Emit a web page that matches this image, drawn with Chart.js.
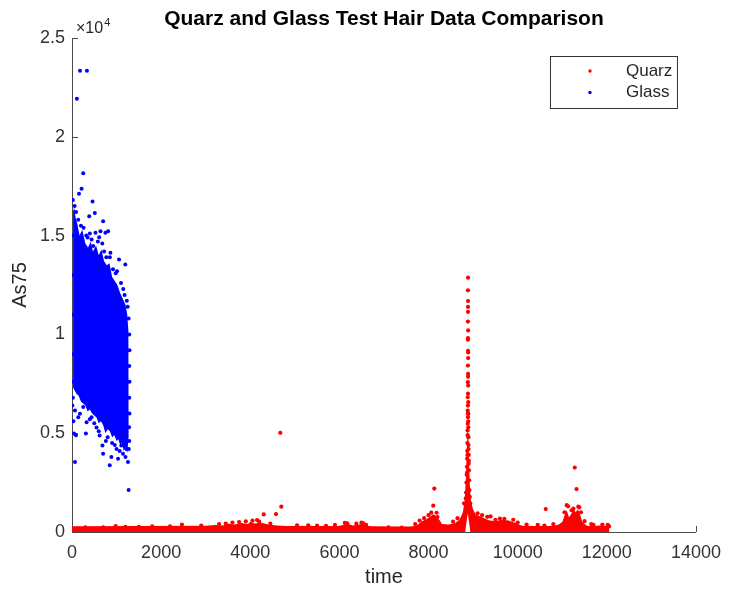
<!DOCTYPE html>
<html><head><meta charset="utf-8">
<script src="https://cdn.jsdelivr.net/npm/chart.js@4/dist/chart.umd.min.js"></script>
<style>html,body{margin:0;padding:0;background:#fff;}canvas{display:block;}</style>
</head><body>
<canvas id="c" width="731" height="594"></canvas>
<script>
// ---------- text ----------
const chartTitle = 'Quarz and Glass Test Hair Data Comparison';
const xLabel = 'time';
const yLabel = 'As75';
const seriesNames = ['Quarz', 'Glass'];
const xTicks = [0, 2000, 4000, 6000, 8000, 10000, 12000, 14000];
const yTicks = [0, 5000, 10000, 15000, 20000, 25000];
const yTickLabels = ['0', '0.5', '1', '1.5', '2', '2.5'];
const yExponent = '4';

// ---------- Quarz (red) ----------
// individual points [time, As75]
const quarzPoints = [
  [8886,12870],[8884,12230],[8887,11690],[8885,11390],[8886,11140],[8884,10650],[8888,10200],[8885,9810],
  [8883,9730],[8886,9170],[8890,9090],[8884,8420],[8887,8000],[8886,7860],[8882,7580],[8889,7410],
  [8885,7000],[8880,6820],[8891,6570],[8884,6400],[8879,6150],[8893,5980],[8885,5810],[8880,5480],
  [8892,5300],[8876,5140],[8894,4800],[8872,4500],[8897,4200],[8868,4100],[8902,3900],[8866,3710],
  [8900,3460],[8860,3300],[8906,3120],[8855,2900],[8912,2620],[8850,2500],[8918,2120],[8842,2000],
  [8925,1780],[8835,1700],[8935,1450],[8825,1400],[8797,1450],
  [8889,8800],[8883,6000],[8890,5600],[8878,4900],[8896,4400],[8874,3900],[8904,3600],[8864,3000],
  [2467,380],[4153,605],[4302,890],[4577,907],[4674,5020],[4696,1280],[6175,440],[6494,470],[6537,440],
  [8106,1330],[8129,2200],[8180,975],[9317,770],[9391,790],[10630,1160],[11100,1360],[11280,3260],
  [11320,2170],[11250,1190],[11360,1280],
  [980,300],[1500,260],[2900,330],[3300,400],[3600,480],[3750,500],[3900,540],[4050,580],[4200,520],
  [4450,430],[5050,340],[5500,320],[5900,360],[6120,460],[6380,420],[6600,360],[7700,400],[7800,580],
  [7900,700],[8000,850],[8060,980],[8200,760],[8550,520],[8650,700],[9100,950],[9200,850],[9600,680],
  [9700,660],[9900,620],[10200,380],[10450,360],[10800,400],[11050,1000],[11130,1300],[11210,1100],
  [11380,1250],[11420,1000],[11500,550],[11650,400],[11900,380],[12020,360],
  [300,240],[700,230],[1200,260],[1800,280],[2200,290],[3450,430],[5300,340],[5700,310],[7100,230],
  [7400,220],[9500,620],[10000,480],[10600,330],[11700,360],[12050,280]
];
// dense band outline (upper edge, then lower edge back)
const quarzBand = [
  [0,0],[0,180],[300,200],[600,170],[900,230],[1000,180],[1300,200],[1700,220],[2000,190],[2300,260],
  [2500,300],[2700,240],[3000,300],[3200,350],[3400,330],[3500,420],[3650,380],[3800,450],[3950,400],
  [4000,520],[4100,430],[4250,470],[4400,380],[4600,330],[4800,300],[5000,280],[5200,310],[5400,260],
  [5600,300],[5800,270],[6000,320],[6200,400],[6300,330],[6450,380],[6550,420],[6650,300],[6800,220],
  [7000,180],[7200,160],[7400,170],[7600,250],[7750,350],[7850,550],[7950,650],[8050,800],[8100,900],
  [8150,850],[8250,600],[8300,400],[8450,380],[8600,450],[8700,650],[8770,1000],[8810,1600],[8840,2800],
  [8860,4200],[8875,5200],[8890,5000],[8905,3800],[8925,2400],[8950,1600],[8990,1200],[9050,900],
  [9150,800],[9250,700],[9350,600],[9500,550],[9650,620],[9800,580],[9950,450],[10100,320],[10300,300],
  [10500,280],[10700,300],[10900,350],[11000,500],[11060,900],[11100,1100],[11150,750],[11200,900],
  [11250,1200],[11300,1000],[11350,1150],[11400,900],[11450,500],[11550,320],[11700,300],[11850,330],
  [12000,300],[12050,250],[12050,0],[8940,0],[8880,950],[8820,0]
];
// dense baseline near zero
const quarzBase = [
  [0,60],[1500,70],[3000,90],[4500,80],[6000,70],[7500,50],[8822,60],[8880,null],[8938,60],[10000,70],[12050,60]
];

// ---------- Glass (blue) ----------
const glassPoints = [
  [110,21930],[180,23340],[335,23340],[252,18160],[215,17370],[157,17120],[461,16730],[512,16140],
  [386,15980],[698,15720],[1055,13790],[1196,13540],[862,14130],[810,15220],[639,15220],[750,15140],
  [610,14920],[527,15140],[475,14480],
  [20,16800],[60,16500],[90,16200],[140,15800],[200,15500],[260,15400],[320,15000],[350,14900],
  [400,15100],[440,14800],[580,14700],[680,14600],[720,14200],[770,13900],[850,13900],[920,13300],
  [980,13100],[1010,13200],[1100,12600],[1150,12300],[1180,12000],[1230,11700],[1250,11400],
  [1270,10800],[1285,10000],[1290,9200],[1285,8400],[1290,7600],[1285,6800],[1290,6000],[1280,5300],
  [1285,4600],[1275,4200],
  [1256,3540],[1144,3960],[1107,4380],[1033,3710],[884,3800],[847,3380],[698,3960],[683,4380],
  [960,4400],[1000,4200],[1070,4100],[1200,3800],[1220,4200],[900,4500],[800,4800],[760,4600],
  [620,4880],[550,5290],[600,5100],[500,5500],[438,5810],[400,5700],[327,5560],[312,4990],[252,6320],
  [178,5980],[141,5810],[89,4890],[67,6150],[45,4990],[67,3540],[30,5600],[10,6400],[20,6800],
  [1270,2120],[15,9000],[12,11000],[18,13000],[14,15000],[16,7600]
];
// dense cloud outline
const glassCore = [
  [25,16300],[40,16600],[80,15900],[120,15600],[170,15000],[230,15300],[300,14600],[360,14400],
  [420,14700],[470,14200],[540,14500],[600,14000],[660,14300],[720,13700],[780,13500],[840,13600],
  [900,12900],[960,12700],[1020,12500],[1080,12100],[1140,11800],[1200,11500],[1240,11000],[1265,10200],
  [1275,8500],[1270,6500],[1265,4800],[1240,4000],[1200,4300],[1160,4100],[1120,4500],[1080,4400],
  [1040,4700],[1000,4600],[950,4900],[900,4800],[850,5100],[800,5200],[750,5000],[700,5400],[650,5600],
  [600,5500],[550,5800],[500,5900],[450,6000],[400,6200],[350,6100],[300,6400],[250,6500],[200,6600],
  [150,6900],[100,7000],[50,7200],[25,7300]
];

const RED = '#ff0000', BLUE = '#0000ff';
const FONT = '"Liberation Sans", Arial, Helvetica, sans-serif';
const AXIS = '#4a4a4a', TXT = '#262626';
const toXY = arr => arr.map(p => ({x: p[0], y: p[1]}));

const deco = {
  id: 'deco',
  beforeDraw(chart) {
    const c = chart.ctx;
    c.save(); c.fillStyle = '#fff'; c.fillRect(0, 0, chart.width, chart.height); c.restore();
  },
  beforeDatasetsDraw(chart) {
    const c = chart.ctx, a = chart.chartArea, xs = chart.scales.x, ys = chart.scales.y;
    c.save(); c.strokeStyle = AXIS; c.lineWidth = 1;
    c.beginPath();
    yTicks.forEach(v => { const y = Math.round(ys.getPixelForValue(v)) + 0.5; c.moveTo(a.left, y); c.lineTo(a.left + 6, y); });
    xTicks.forEach(v => { const x = Math.round(xs.getPixelForValue(v)) + 0.5; c.moveTo(x, a.bottom); c.lineTo(x, a.bottom - 6); });
    c.stroke(); c.restore();
  },
  afterDraw(chart) {
    const c = chart.ctx, a = chart.chartArea;
    c.save();
    // title
    c.fillStyle = '#000'; c.font = 'bold 21px ' + FONT; c.textAlign = 'center'; c.textBaseline = 'alphabetic';
    c.fillText(chartTitle, (a.left + a.right) / 2, 25);
    // x label
    c.fillStyle = TXT; c.font = '20px ' + FONT;
    c.fillText(xLabel, (a.left + a.right) / 2, 583);
    // y label
    c.save(); c.translate(20, (a.top + a.bottom) / 2); c.rotate(-Math.PI / 2);
    c.textBaseline = 'middle'; c.fillText(yLabel, 0, 0); c.restore();
    // exponent
    c.textAlign = 'left'; c.font = '16px ' + FONT;
    const base = '\u00d710';
    c.fillText(base, a.left + 4, 33);
    const w = c.measureText(base).width;
    c.font = '11px ' + FONT; c.fillText(yExponent, a.left + 4 + w + 1, 26);
    // legend
    const lx = a.right - 146, ly = a.top + 18, lw = 127, lh = 52;
    c.fillStyle = '#fff'; c.fillRect(lx, ly, lw, lh);
    c.strokeStyle = '#333'; c.lineWidth = 1; c.strokeRect(lx + 0.5, ly + 0.5, lw, lh);
    const cols = [RED, BLUE];
    seriesNames.forEach((name, i) => {
      const yy = ly + 15 + i * 21.5;
      c.fillStyle = cols[i]; c.beginPath(); c.arc(lx + 40, yy, 1.7, 0, Math.PI * 2); c.fill();
      c.fillStyle = TXT; c.font = '17px ' + FONT; c.textAlign = 'left'; c.textBaseline = 'middle';
      c.fillText(name, lx + 76, yy);
    });
    c.restore();
  }
};

new Chart(document.getElementById('c'), {
  type: 'scatter',
  data: {
    datasets: [
      {label: seriesNames[0], data: toXY(quarzPoints), backgroundColor: RED, borderWidth: 0, pointRadius: 2.1, pointHoverRadius: 2.1},
      {label: seriesNames[1], data: toXY(glassPoints), backgroundColor: BLUE, borderWidth: 0, pointRadius: 2, pointHoverRadius: 2},
      {type: 'line', label: 'quarzBand', data: toXY(quarzBand), showLine: true, borderWidth: 0, borderColor: 'rgba(0,0,0,0)', backgroundColor: RED, fill: 'shape', pointRadius: 0, tension: 0},
      {type: 'line', label: 'quarzBase', data: toXY(quarzBase), showLine: true, borderWidth: 9, borderColor: RED, borderCapStyle: 'butt', fill: false, pointRadius: 0, tension: 0, spanGaps: false},
      {type: 'line', label: 'glassCore', data: toXY(glassCore), showLine: true, borderWidth: 0, borderColor: 'rgba(0,0,0,0)', backgroundColor: BLUE, fill: 'shape', pointRadius: 0, tension: 0}
    ]
  },
  options: {
    responsive: false, animation: false, devicePixelRatio: 1,
    layout: {padding: {top: 38, right: 31, left: 0, bottom: 0}},
    plugins: {legend: {display: false}, tooltip: {enabled: false}, title: {display: false}},
    events: [],
    scales: {
      x: {
        type: 'linear', min: 0, max: 14000,
        afterBuildTicks: s => { s.ticks = xTicks.map(v => ({value: v})); },
        afterFit: s => { s.height = 62; },
        ticks: {font: {family: FONT, size: 18}, color: '#333', padding: 10, maxRotation: 0, autoSkip: false, callback: v => String(v)},
        grid: {display: false, drawTicks: false},
        border: {display: true, color: AXIS, width: 1}
      },
      y: {
        type: 'linear', min: 0, max: 25000,
        afterBuildTicks: s => { s.ticks = yTicks.map(v => ({value: v})); },
        afterFit: s => { s.width = 72; },
        ticks: {font: {family: FONT, size: 18}, color: '#333', padding: 7, autoSkip: false, callback: (v, i) => yTickLabels[i]},
        grid: {display: false, drawTicks: false},
        border: {display: true, color: AXIS, width: 1}
      }
    }
  },
  plugins: [deco]
});
</script>
</body></html>
